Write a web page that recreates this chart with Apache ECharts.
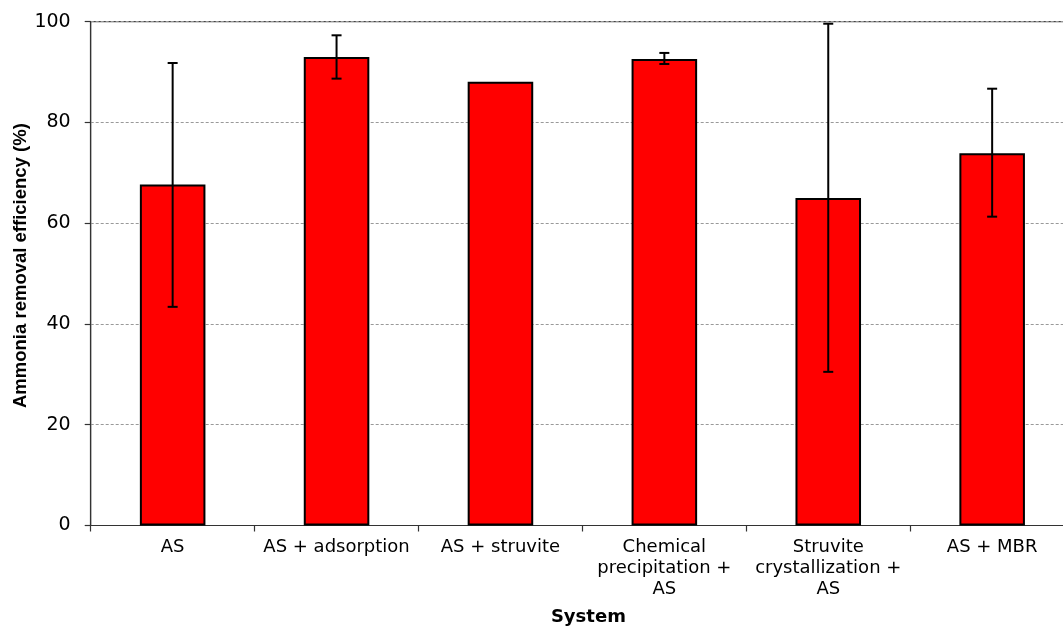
<!DOCTYPE html>
<html>
<head>
<meta charset="utf-8">
<script src="https://cdn.jsdelivr.net/npm/echarts@6/dist/echarts.min.js"></script>
<style>
html,body{margin:0;padding:0;background:#fff;}
#chart{width:1063px;height:628px;}
</style>
</head>
<body>
<div id="chart"></div>
<script>
var categories = ['AS', 'AS + adsorption', 'AS + struvite', 'Chemical\nprecipitation +\nAS', 'Struvite\ncrystallization +\nAS', 'AS + MBR'];
var values = [67.7, 93.0, 88.1, 92.6, 65.0, 73.9];
var errLow = [43.4, 88.7, null, 91.6, 30.5, 61.3];
var errHigh = [91.8, 97.3, null, 93.8, 99.6, 86.7];
var yTicks = [0, 20, 40, 60, 80, 100];

var errData = [];
for (var i = 0; i < categories.length; i++) {
  if (errLow[i] != null) errData.push([i, errLow[i], errHigh[i]]);
}

var chart = echarts.init(document.getElementById('chart'), null, {renderer: 'canvas'});
chart.setOption({
  backgroundColor: '#ffffff',
  animation: false,
  grid: {left: 90.7, width: 983.4, top: 21.7, height: 503.8, show: true, borderColor: '#444', borderWidth: 1.2, backgroundColor: 'transparent', containLabel: false, outerBoundsMode: 'none'},
  xAxis: {
    type: 'category',
    data: categories,
    name: 'System',
    nameLocation: 'middle',
    nameGap: 83,
    nameMoveOverlap: false,
    nameTextStyle: {fontFamily: 'DejaVu Sans', fontWeight: 'bold', fontSize: 18, color: '#000', padding: [0, 0, 0, 12]},
    axisLine: {lineStyle: {color: '#333', width: 1.2}},
    axisTick: {show: true, length: 6, lineStyle: {color: '#333', width: 1.2}},
    axisLabel: {fontFamily: 'DejaVu Sans', fontSize: 18, color: '#000', lineHeight: 21, margin: 11, interval: 0}
  },
  yAxis: {
    type: 'value',
    min: 0, max: 100, interval: 20,
    name: 'Ammonia removal efficiency (%)',
    nameLocation: 'middle',
    nameGap: 60,
    nameMoveOverlap: false,
    nameRotate: 90,
    nameTextStyle: {fontFamily: 'Liberation Sans', fontWeight: 'bold', fontSize: 18.5, color: '#000', padding: [0, 0, 0, 16]},
    axisLine: {show: true, lineStyle: {color: '#333', width: 1.2}},
    axisTick: {show: true, length: 6, lineStyle: {color: '#333', width: 1.2}},
    axisLabel: {fontFamily: 'DejaVu Sans', fontSize: 19, color: '#000', margin: 20,
      formatter: function (v) { return yTicks.indexOf(v) >= 0 ? String(v) : ''; }},
    splitLine: {show: true, lineStyle: {color: '#999', type: [3, 2], width: 1}}
  },
  series: [
    {
      type: 'bar',
      data: values,
      barWidth: '40%',
      itemStyle: {color: '#ff0000', borderColor: '#000', borderWidth: 2}
    },
    {
      type: 'custom',
      data: errData,
      z: 10,
      clip: false,
      renderItem: function (params, api) {
        var x = api.value(0);
        var lo = api.coord([x, api.value(1)]);
        var hi = api.coord([x, api.value(2)]);
        var hw = 5;
        var st = {stroke: '#000', lineWidth: 2};
        return {
          type: 'group',
          children: [
            {type: 'line', shape: {x1: lo[0], y1: lo[1], x2: hi[0], y2: hi[1]}, style: st},
            {type: 'line', shape: {x1: lo[0] - hw, y1: lo[1], x2: lo[0] + hw, y2: lo[1]}, style: st},
            {type: 'line', shape: {x1: hi[0] - hw, y1: hi[1], x2: hi[0] + hw, y2: hi[1]}, style: st}
          ]
        };
      }
    }
  ]
});
</script>
</body>
</html>
